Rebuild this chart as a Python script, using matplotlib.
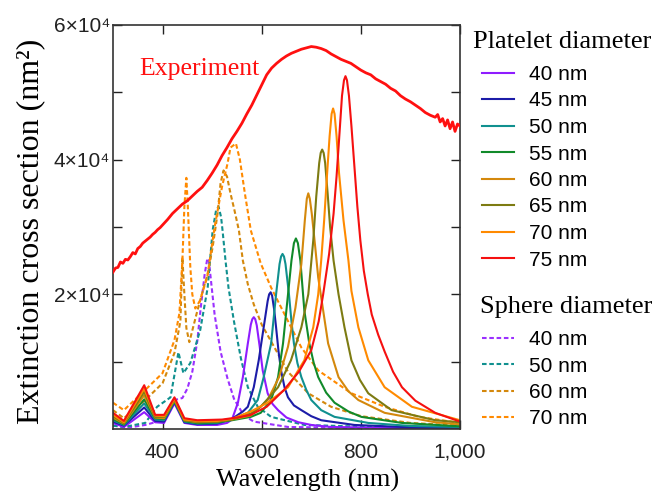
import matplotlib
matplotlib.use("Agg")
import matplotlib.pyplot as plt
from matplotlib.ticker import FixedLocator, FuncFormatter

# ---- data (values in units of 1e3 nm^2) ----
exp_wl = [300, 305, 310, 315, 320, 325, 330, 335, 340, 345, 350, 355, 360, 365, 370, 375,
          380, 385, 390, 395, 400, 410, 420, 430, 440, 450, 460, 470, 480, 490, 500, 510,
          520, 530, 540, 550, 560, 570, 580, 590, 600, 610, 620, 630, 640, 650, 660, 670,
          680, 690, 700, 710, 720, 730, 740, 750, 760, 770, 780, 790, 800, 810, 820, 830,
          840, 850, 860, 870, 880, 890, 900, 910, 920, 930, 940, 950, 955, 960, 965, 970,
          975, 980, 985, 990, 995, 1000]
exp_val = [23.3, 23.9, 24.0, 24.8, 24.6, 25.2, 25.1, 25.6, 26.2, 26.0, 26.8, 27.1, 27.6, 27.9,
           28.2, 28.5, 28.9, 29.2, 29.6, 29.9, 30.3, 31.1, 32.0, 32.7, 33.4, 33.9, 34.6, 35.3,
           35.9, 36.9, 38.0, 39.2, 40.6, 41.8, 43.1, 44.2, 45.4, 46.8, 48.1, 49.6, 51.1, 52.6,
           53.6, 54.3, 54.9, 55.4, 55.8, 56.1, 56.4, 56.6, 56.8, 56.7, 56.5, 56.2, 55.7, 55.3,
           54.9, 54.6, 54.3, 53.8, 53.3, 52.9, 52.6, 52.0, 51.6, 51.2, 50.6, 50.2, 49.5, 49.0,
           48.6, 48.1, 47.6, 47.0, 46.6, 46.3, 46.7, 45.6, 46.1, 45.0, 45.9, 44.6, 45.6, 44.2,
           45.3, 45.0]

p40_wl = [300, 322, 363, 385, 403, 424, 444, 470, 510, 530, 540, 552, 562, 572, 578, 581, 584,
          587, 590, 596, 602, 612, 622, 633, 650, 674, 700, 740, 850, 1000]
p40_val = [0.9, 0.3, 2.5, 1.0, 0.9, 3.8, 0.9, 0.6, 0.6, 0.9, 1.4, 3.9, 7.7, 12.7, 15.5, 16.3,
           16.6, 16.3, 15.4, 12.2, 8.7, 5.3, 3.7, 2.8, 1.7, 1.0, 0.6, 0.3, 0.15, 0.1]

p45_wl = [300, 322, 363, 385, 403, 424, 444, 470, 510, 540, 552, 562, 572, 584, 594, 604, 612,
          615, 618, 621, 625, 629, 634, 639, 646, 653, 665, 680, 700, 720, 787, 900, 1000]
p45_val = [1.1, 0.5, 3.2, 1.2, 1.1, 4.0, 1.0, 0.7, 0.8, 1.5, 2.1, 2.6, 3.3, 6.2, 10.2, 15.1,
           19.0, 20.0, 20.3, 19.8, 17.8, 15.1, 11.5, 8.7, 6.2, 4.7, 3.5, 2.8, 1.9, 1.3, 0.6,
           0.25, 0.15]

p50_wl = [300, 322, 363, 385, 403, 424, 444, 470, 510, 540, 572, 592, 604, 619, 629, 636, 639,
          642, 645, 648, 655, 660, 665, 672, 680, 690, 700, 720, 747, 815, 900, 1000]
p50_val = [1.3, 0.6, 3.8, 1.4, 1.3, 4.1, 1.1, 0.8, 0.9, 1.4, 2.4, 4.3, 7.7, 12.7, 20, 24.5,
           25.6, 26, 25.6, 24.5, 20, 16, 12.7, 9.8, 7.7, 5.8, 4.3, 2.8, 1.8, 0.9, 0.45, 0.3]

p55_wl = [300, 322, 363, 385, 403, 424, 444, 470, 510, 540, 578, 598, 619, 633, 643, 651, 660,
          665, 669, 673, 678, 686, 696, 705, 714, 730, 747, 775, 801, 883, 1000]
p55_val = [1.5, 0.7, 4.4, 1.6, 1.5, 4.2, 1.2, 0.9, 1.0, 1.3, 1.8, 2.4, 4.3, 7.7, 12.7, 18.5, 25,
           27.6, 28.3, 27.6, 25, 17.6, 12.7, 9.8, 7.7, 5.4, 3.9, 2.6, 1.8, 0.9, 0.4]

p60_wl = [300, 322, 363, 385, 403, 424, 444, 470, 510, 540, 578, 612, 635, 653, 668, 680, 687,
          691, 694, 697, 701, 708, 714, 724, 734, 755, 775, 795, 848, 950, 1000]
p60_val = [1.7, 0.8, 5.0, 1.7, 1.6, 4.3, 1.3, 1.0, 1.1, 1.4, 2.0, 4.3, 7.7, 12.2, 18, 24.5, 31,
           34.2, 35, 34.2, 32, 27, 22.5, 17.6, 12.7, 7.7, 5.6, 4.3, 2.4, 1.0, 0.7]

p65_wl = [300, 322, 363, 385, 403, 424, 444, 470, 510, 540, 578, 598, 633, 659, 680, 694, 704,
          710, 716, 719, 722, 725, 728, 733, 738, 745, 755, 767, 781, 798, 815, 862, 950, 1000]
p65_val = [1.9, 0.9, 5.5, 1.8, 1.8, 4.4, 1.3, 1.1, 1.1, 1.4, 2.3, 3.3, 6.2, 10.2, 15.1, 20, 28,
           34.5, 39.5, 41.0, 41.5, 41.0, 39.5, 35, 30, 25, 20, 15.1, 10.2, 7.3, 5.3, 2.8, 1.3,
           1.0]

p70_wl = [300, 322, 363, 385, 403, 424, 444, 470, 510, 540, 578, 612, 653, 686, 704, 714, 720,
          726, 732, 737, 741, 744, 747, 751, 756, 765, 775, 781, 795, 815, 848, 903, 1000]
p70_val = [2.1, 1.0, 6.0, 2.0, 1.9, 4.5, 1.4, 1.2, 1.2, 1.5, 2.6, 3.9, 6.2, 10.2, 15.1, 20,
           25, 31, 38, 43.5, 46.8, 47.6, 46.8, 43.5, 38, 31, 25, 20.5, 15.1, 10.2, 6.2, 3.3, 1.3]

p75_wl = [300, 322, 363, 385, 403, 424, 444, 470, 520, 550, 578, 610, 645, 675, 700, 715, 724,
          736, 745, 751, 757, 762, 766, 769, 772, 776, 781, 787, 793, 799, 806, 814, 822, 835,
          848, 865, 883, 910, 950, 1000]
p75_val = [2.4, 1.2, 6.5, 2.1, 2.1, 4.7, 1.6, 1.3, 1.4, 1.7, 2.1, 3.3, 5.8, 8.5, 11.7, 16, 20,
           26, 32, 37.5, 44, 49.5, 51.8, 52.4, 51.8, 49.5, 45, 39, 33, 28, 23.5, 20, 17, 14,
           11.5, 8.5, 6.2, 4.2, 2.4, 1.1]

s40_wl = [300, 322, 339, 365, 400, 424, 440, 450, 460, 470, 477, 485, 490, 493, 497, 505, 517,
          531, 544, 564, 584, 653, 750, 1000]
s40_val = [0.5, 0.3, 0.3, 0.6, 1.3, 4.3, 4.6, 6.0, 8.5, 13, 18, 23, 25.2, 25.3, 22.5, 17, 11.5,
           7.5, 4.5, 2.0, 1.1, 0.3, 0.2, 0.1]

s50_wl = [300, 322, 365, 389, 416, 432, 442, 456, 476, 491, 501, 508, 513, 518, 521, 527, 533,
          544, 558, 572, 592, 619, 686, 800, 1000]
s50_val = [0.5, 0.3, 0.9, 3.3, 4.7, 11.4, 8.3, 9.8, 14.7, 21, 29.5, 32.5, 33, 31.5, 29.5, 25,
           21, 16, 10.5, 6.2, 3.3, 1.8, 0.6, 0.35, 0.2]

s60_wl = [300, 322, 365, 400, 424, 436, 440, 444, 448, 454, 470, 483, 491, 501, 511, 517, 523,
          530, 537, 545, 554, 562, 572, 584, 600, 619, 653, 694, 740, 801, 900, 1000]
s60_val = [2.8, 1.6, 4.3, 6.8, 11.3, 16, 25.5, 20, 15, 12.9, 17.5, 21, 23, 27, 32, 36.5, 38.4,
           37.5, 35, 32.5, 29.5, 25, 21.5, 18.5, 15.5, 13, 8.5, 5.3, 3.3, 1.9, 0.9, 0.5]

s70_wl = [300, 322, 365, 400, 424, 434, 440, 444, 448, 451, 456, 460, 466, 475, 490, 505, 520,
          531, 537, 548, 556, 566, 578, 598, 619, 645, 680, 714, 781, 848, 917, 1000]
s70_val = [3.9, 2.8, 5.8, 8.3, 13.2, 17.2, 25, 33, 37.3, 33, 24, 20, 17.9, 19, 22.5, 30, 36,
           39.4, 41.8, 42.4, 40, 35, 29.5, 24.6, 21, 17.2, 12.1, 8.7, 5.3, 3.3, 1.8, 0.9]

platelet_labels = ["40 nm", "45 nm", "50 nm", "55 nm", "60 nm", "65 nm", "70 nm", "75 nm"]
sphere_labels = ["40 nm", "50 nm", "60 nm", "70 nm"]

platelets = [(p40_wl, p40_val), (p45_wl, p45_val), (p50_wl, p50_val), (p55_wl, p55_val),
             (p60_wl, p60_val), (p65_wl, p65_val), (p70_wl, p70_val), (p75_wl, p75_val)]
spheres = [(s40_wl, s40_val), (s50_wl, s50_val), (s60_wl, s60_val), (s70_wl, s70_val)]

platelet_colors = ["#8f1cff", "#1c1ca8", "#10908f", "#118a2a", "#d4880c", "#7d7b12",
                   "#ff8a00", "#f51010"]
sphere_colors = ["#9b30ff", "#10908f", "#d4880c", "#ff8a00"]

SERIF = ["Liberation Serif", "DejaVu Serif"]
SANS = ["Liberation Sans", "DejaVu Sans"]

fig = plt.figure(figsize=(6.52, 4.94), dpi=100)
ax = fig.add_axes([0.1733, 0.1316, 0.5322, 0.8178])

sphere_lines = []
for (wl, v), c, lab in zip(spheres, sphere_colors, sphere_labels):
    ln, = ax.plot(wl, [x * 1e3 for x in v], color=c, lw=1.5, ls=(0, (2.2, 1.3)), label=lab)
    sphere_lines.append(ln)

plate_lines = []
for (wl, v), c, lab in zip(platelets, platelet_colors, platelet_labels):
    ln, = ax.plot(wl, [x * 1e3 for x in v], color=c, lw=1.5, label=lab)
    plate_lines.append(ln)

ax.plot(exp_wl, [x * 1e3 for x in exp_val], color="#ff1010", lw=2.0, zorder=5)
ax.text(0.075, 0.876, "Experiment", transform=ax.transAxes, color="#ff1010",
        fontsize=18.5, family=SERIF)

ax.set_xlim(300, 1000)
ax.set_ylim(0, 6e4)
ax.xaxis.set_major_locator(FixedLocator([400, 600, 800, 1000]))
ax.xaxis.set_major_formatter(FuncFormatter(lambda x, p: f"{int(x):,}"))
ax.yaxis.set_major_locator(FixedLocator([1e4, 2e4, 3e4, 4e4, 5e4, 6e4]))
ax.yaxis.set_major_formatter(FuncFormatter(
    lambda y, p: f"{int(round(y / 1e4))}\u00d710\u2074" if int(round(y / 1e4)) % 2 == 0 else ""))
ax.tick_params(direction="in", length=6.5, width=1, top=True, right=True,
               labelsize=15, colors="#222222")
ax.tick_params(axis="y", pad=2)
ax.tick_params(axis="x", pad=10)
for lab in ax.get_xticklabels() + ax.get_yticklabels():
    lab.set_family(SANS)
for s in ax.spines.values():
    s.set_linewidth(1.2)
    s.set_color("#333333")

ax.set_xlabel("Wavelength (nm)", fontsize=19, family=SERIF)
ax.set_ylabel("Extinction cross section (nm\u00b2)", fontsize=23, family=SERIF)
ax.xaxis.set_label_coords(0.562, -0.10)
ax.yaxis.set_label_coords(-0.195, 0.49)

# legends: titles as figure text, entries as two untitled legends
fig.text(473 / 652, 1 - 42 / 494, "Platelet diameter", family=SERIF, fontsize=19,
         va="center", ha="left")
fig.text(480 / 652, 1 - 307 / 494, "Sphere diameter", family=SERIF, fontsize=19,
         va="center", ha="left")

leg_kw = dict(loc="upper left", bbox_transform=fig.transFigure, frameon=False,
              prop={"family": SANS, "size": 15}, handlelength=1.55, handletextpad=0.72,
              labelspacing=0.36, borderpad=0, borderaxespad=0)
leg1 = ax.legend(handles=plate_lines, bbox_to_anchor=(482 / 652, 1 - 65 / 494), **leg_kw)
ax.add_artist(leg1)
leg2 = ax.legend(handles=sphere_lines, bbox_to_anchor=(482 / 652, 1 - 330 / 494), **leg_kw)

fig.savefig("out.png", dpi=100)
